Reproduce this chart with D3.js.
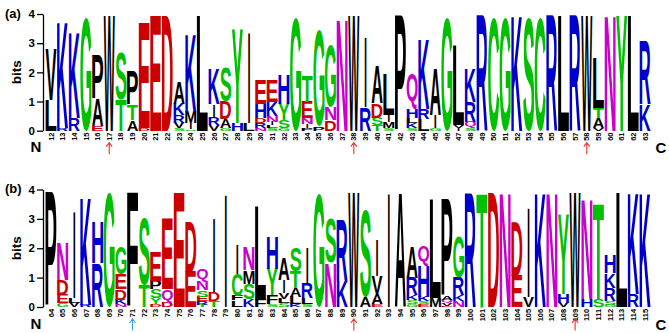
<!DOCTYPE html>
<html><head><meta charset="utf-8">
<script src="https://cdn.jsdelivr.net/npm/d3@7"></script>
<style>body{margin:0;background:#fff}svg{display:block}</style>
</head><body><svg id="c" width="669" height="333"></svg>
<script>
// ---------- DATA ----------
const positionsA = [12,13,14,15,16,17,18,19,20,21,22,23,24,25,26,27,28,29,30,31,32,33,34,35,36,37,38,39,40,41,42,43,44,45,46,47,48,49,50,51,52,53,54,55,56,57,58,59,60,61,62,63];
const positionsB = [64,65,66,67,68,69,70,71,72,73,74,75,76,77,78,79,80,81,82,83,84,85,86,87,88,89,90,91,92,93,94,95,96,97,98,99,100,101,102,103,104,105,106,107,108,109,110,111,112,113,114,115];
// stacks: bottom -> top, [residue, bits]
const stacksA = [
 [["L",1.05],["V",1.75]],
 [["R",0.08],["K",3.65]],
 [["R",0.42],["K",2.95]],
 [["G",3.88]],
 [["E",0.15],["A",0.95],["P",1.5]],
 [["W",3.95]],
 [["T",1.05],["S",1.6]],
 [["A",0.35],["T",0.55],["P",1.15]],
 [["D",0.1],["E",3.58]],
 [["E",3.95]],
 [["D",3.95]],
 [["S",0.08],["V",0.2],["R",0.25],["K",0.4],["A",0.75]],
 [["S",0.05],["I",0.2],["M",0.4],["K",2.65]],
 [["L",3.95]],
 [["V",0.2],["R",0.25],["I",0.45],["K",1.2]],
 [["G",0.1],["A",0.3],["D",0.6],["S",1.15]],
 [["H",0.25],["Y",3.2]],
 [["L",0.25],["I",3.1]],
 [["N",0.1],["R",0.15],["D",0.18],["H",0.5],["E",0.85]],
 [["S",0.08],["L",0.1],["I",0.12],["N",0.2],["K",0.5],["E",0.75]],
 [["G",0.08],["S",0.25],["Y",0.6],["H",1.0]],
 [["G",3.88]],
 [["P",0.08],["I",0.15],["N",0.2],["E",0.55],["T",0.9]],
 [["P",0.15],["G",3.3]],
 [["D",0.35],["N",0.45],["G",2.1]],
 [["N",3.85]],
 [["W",3.95]],
 [["R",0.8],["I",2.4]],
 [["T",0.2],["S",0.25],["D",0.5],["A",1.3]],
 [["S",0.1],["M",0.2],["I",0.25],["L",1.4]],
 [["P",3.95]],
 [["S",0.1],["K",0.17],["L",0.18],["H",0.3],["Q",1.2]],
 [["L",0.4],["R",0.35],["K",2.4]],
 [["G",0.08],["I",0.45],["A",1.6]],
 [["G",3.88]],
 [["I",0.1],["V",0.1],["L",2.7]],
 [["S",0.1],["Q",0.2],["R",0.7],["K",1.15]],
 [["R",3.95]],
 [["C",3.9]],
 [["G",3.9]],
 [["K",3.95]],
 [["S",3.9]],
 [["C",3.9]],
 [["R",3.95]],
 [["L",3.95]],
 [["R",3.95]],
 [["W",3.95]],
 [["V",0.08],["A",0.35],["T",0.35],["L",1.7]],
 [["N",3.95]],
 [["Y",3.95]],
 [["L",3.95]],
 [["K",0.9],["R",2.15]]
];
const stacksB = [
 [["P",3.9]],
 [["G",0.12],["E",0.3],["D",0.5],["N",1.3]],
 [["V",0.15],["L",0.15],["I",2.95]],
 [["R",0.07],["K",3.68]],
 [["R",1.5],["H",1.4]],
 [["G",3.9]],
 [["N",0.1],["K",0.15],["D",0.35],["E",0.5],["G",0.95]],
 [["F",3.9]],
 [["T",0.75],["S",2.3]],
 [["D",0.1],["Y",0.2],["S",0.3],["P",0.3],["E",1.0]],
 [["D",0.15],["Q",0.45],["E",2.4]],
 [["E",3.9]],
 [["E",1.2],["D",1.7]],
 [["T",0.08],["R",0.12],["E",0.15],["S",0.22],["N",0.3],["Q",0.45]],
 [["T",0.2],["D",0.3],["I",2.5]],
 [["I",3.85]],
 [["L",0.22],["F",0.15],["C",0.75],["I",1.0]],
 [["K",0.25],["S",0.55],["M",0.45],["N",0.8]],
 [["F",0.25],["L",3.2]],
 [["S",0.1],["F",0.3],["Y",0.9],["H",1.1]],
 [["S",0.12],["L",0.15],["V",0.2],["I",0.45],["A",0.75]],
 [["K",0.1],["L",0.25],["A",0.3],["T",0.55],["S",0.8]],
 [["S",0.1],["L",0.2],["R",0.5],["I",1.25]],
 [["G",3.85]],
 [["N",1.5],["S",1.5]],
 [["K",0.9],["R",2.1]],
 [["W",3.9]],
 [["A",0.33],["S",2.95]],
 [["E",0.1],["A",0.35],["V",0.6],["I",1.25]],
 [["I",3.9]],
 [["A",3.9]],
 [["G",0.1],["S",0.15],["K",0.15],["R",0.6],["A",1.05]],
 [["E",0.1],["S",0.1],["K",0.15],["H",1.05],["Q",0.7]],
 [["M",0.3],["L",3.35]],
 [["E",0.05],["V",0.1],["Q",0.1],["A",0.12],["P",3.3]],
 [["N",0.2],["K",0.2],["R",0.6],["G",1.4]],
 [["R",3.9]],
 [["T",3.9]],
 [["D",3.9]],
 [["N",3.9]],
 [["E",1.07],["D",1.83]],
 [["V",0.33],["I",3.05]],
 [["K",3.9]],
 [["N",3.9]],
 [["V",0.15],["H",0.3],["Y",2.7]],
 [["W",3.9]],
 [["H",0.27],["N",3.4]],
 [["S",0.28],["T",3.25]],
 [["G",0.08],["S",0.12],["R",0.45],["K",0.5],["H",0.6]],
 [["L",3.9]],
 [["R",0.45],["K",3.45]],
 [["K",3.9]]
];
const yTicks = [0,1,2,3,4];
const arrowsA = [{pos:17,color:"#e8352a"},{pos:38,color:"#e8352a"},{pos:58,color:"#e8352a"}];
const arrowsB = [{pos:71,color:"#3a9be0"},{pos:90,color:"#e8352a"},{pos:109,color:"#e8352a"}];
const panelLabels = ["(a)","(b)"];

// ---------- COLORS ----------
const colorOf = ch => {
  if ("GSTYC".includes(ch)) return "#00c000";
  if ("NQ".includes(ch)) return "#cc00cc";
  if ("KRH".includes(ch)) return "#0000cc";
  if ("DE".includes(ch)) return "#cc0000";
  return "#000000";
};

// glyph metrics
const FONT = '"Liberation Sans", Arial, Helvetica, sans-serif';
const ctx = document.createElement("canvas").getContext("2d");
ctx.font = 'bold 100px "Liberation Sans"';
const metricCache = {};
function met(ch){
  if(!metricCache[ch]){
    const m = ctx.measureText(ch);
    metricCache[ch] = {l:m.actualBoundingBoxLeft, r:m.actualBoundingBoxRight, a:m.actualBoundingBoxAscent, d:m.actualBoundingBoxDescent};
  }
  return metricCache[ch];
}

const svg = d3.select("#c");

function drawPanel(g, positions, stacks, arrows, label, y0, y4){
  const x = d3.scaleBand().domain(positions).range([45.2, 650.8]).paddingInner(0.05).paddingOuter(0.02);
  const y = d3.scaleLinear().domain([0,4]).range([y0, y4]);

  // letters
  positions.forEach((p,i)=>{
    let cum = 0;
    const bw = x.bandwidth();
    stacks[i].forEach(([ch,h])=>{
      const yb = y(cum), yt = y(cum+h);
      cum += h;
      const m = met(ch);
      const W = m.l + m.r, H = m.a + m.d;
      let w = bw, x0 = x(p);
      if (ch === "I") { w = bw*0.16; x0 = x(p) + (bw-w)/2; }
      const hh = yb - yt;
      g.append("text")
        .attr("x",0).attr("y",0)
        .attr("font-family",FONT).attr("font-weight","bold").attr("font-size",100)
        .attr("fill",colorOf(ch))
        .attr("transform",`translate(${x0},${yb}) scale(${w/W},${hh/H}) translate(${m.l},${-m.d})`)
        .text(ch);
    });
  });

  // y axis
  const ax = g.append("g").attr("transform","translate(43,0)")
    .call(d3.axisLeft(y).tickValues(yTicks).tickSize(6).tickSizeOuter(0).tickPadding(2).tickFormat(d3.format("d")));
  ax.select(".domain").attr("stroke","#000").attr("stroke-width",1.3);
  ax.selectAll(".tick line").attr("stroke","#000").attr("stroke-width",1.3);
  ax.selectAll(".tick text").attr("font-family",FONT).attr("font-weight","bold").attr("font-size",11.5).attr("fill","#000");

  // bits label
  g.append("text").attr("transform",`translate(21,${(y0+y4)/2}) rotate(-90)`)
    .attr("text-anchor","middle").attr("font-family",FONT).attr("font-weight","bold").attr("font-size",13.5).text("bits");

  // panel label
  g.append("text").attr("x",5).attr("y",y4+3.5).attr("font-family",FONT).attr("font-weight","bold").attr("font-size",13).text(label);

  // position labels
  positions.forEach(p=>{
    g.append("text").attr("transform",`translate(${x(p)+x.bandwidth()/2+2.6},${y0+1.8}) rotate(-90)`)
      .attr("text-anchor","end").attr("font-family",FONT).attr("font-weight","bold").attr("font-size",7.5).text(p);
  });

  // N / C
  g.append("text").attr("x",36).attr("y",y0+21.5).attr("text-anchor","middle").attr("font-family",FONT).attr("font-weight","bold").attr("font-size",15).text("N");
  g.append("text").attr("x",661).attr("y",y0+22.5).attr("text-anchor","middle").attr("font-family",FONT).attr("font-weight","bold").attr("font-size",15).text("C");

  // arrows
  arrows.forEach(a=>{
    const cx = x(a.pos)+x.bandwidth()/2;
    const top = y0+12, bot = y0+23.5;
    g.append("path").attr("d",`M${cx},${bot}L${cx},${top+0.5}M${cx-3},${top+4}L${cx},${top}L${cx+3},${top+4}`)
      .attr("fill","none").attr("stroke",a.color).attr("stroke-width",1.1);
  });
}

drawPanel(svg.append("g"), positionsA, stacksA, arrowsA, panelLabels[0], 130.7, 14);
drawPanel(svg.append("g"), positionsB, stacksB, arrowsB, panelLabels[1], 307, 189.5);
</script></body></html>
